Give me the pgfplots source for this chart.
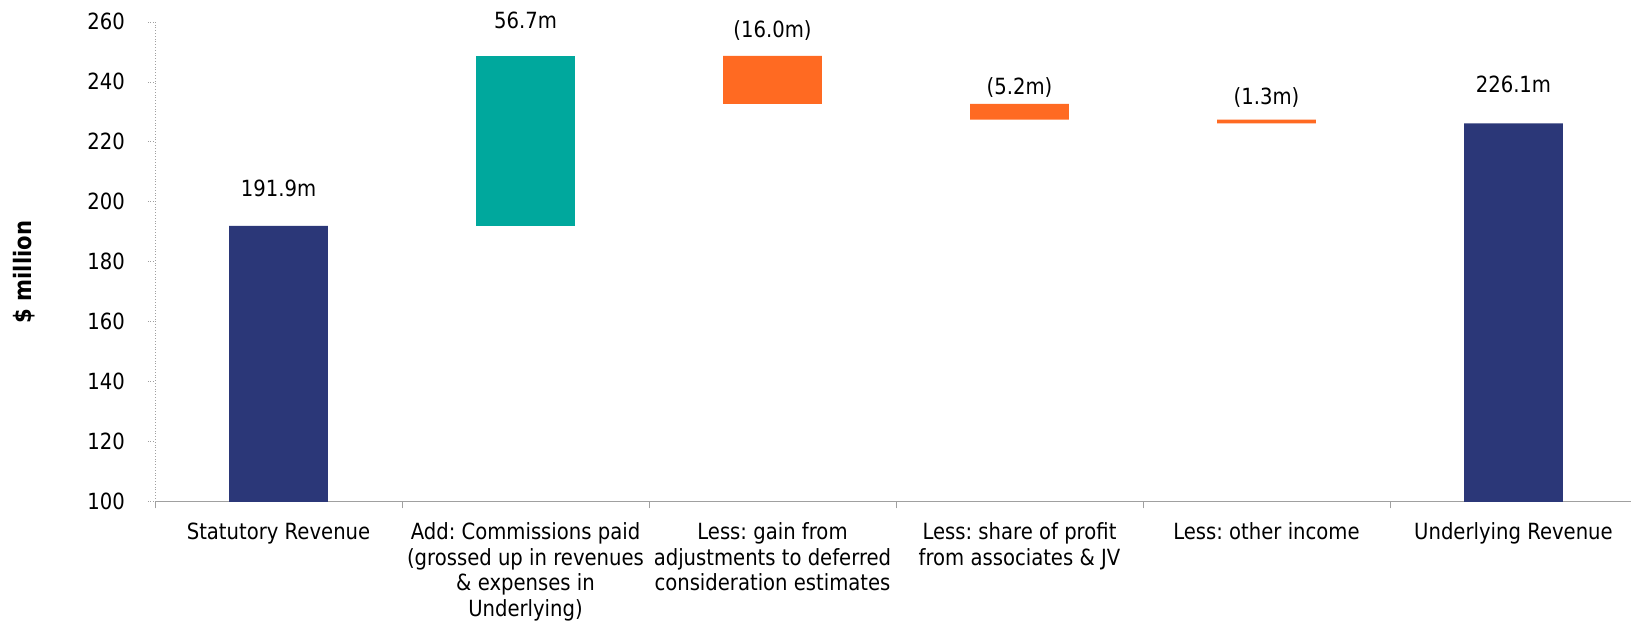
\documentclass[border=0pt]{standalone}
\usepackage{fontspec}
\setmainfont{DejaVu Sans}[FakeStretch=0.88]
\usepackage{pgfplots}
\pgfplotsset{compat=1.18}
\frenchspacing

\definecolor{navybar}{RGB}{43,55,120}
\definecolor{tealbar}{RGB}{0,168,157}
\definecolor{orangebar}{RGB}{255,106,34}
\definecolor{axisgray}{RGB}{160,160,160}
\newcommand\lblfont{\fontsize{11.15}{12.8}\selectfont}

\begin{document}
\begin{tikzpicture}
\begin{axis}[
    at={(0,0)}, anchor=south west,
    scale only axis,
    width=738pt, height=239.8pt,
    xmin=-0.5, xmax=5.476,
    ymin=100, ymax=260,
    ytick={100,120,...,260},
    xtick={-0.5,0.5,...,4.5},
    xticklabels={},
    extra x ticks={0,1,2,3,4,5},
    extra x tick labels={
        {Statutory Revenue},
        {Add: Commissions paid\\(grossed up in revenues\\\& expenses in\\Underlying)},
        {Less: gain from\\adjustments to deferred\\consideration estimates},
        {Less: share of profit\\from associates \& JV},
        {Less: other income},
        {Underlying Revenue}},
    extra x tick style={major tick length=0pt},
    axis x line=bottom,
    axis y line=left,
    x axis line style={-, draw=axisgray},
    y axis line style={-, draw=axisgray, densely dotted},
    tick align=outside,
    major tick length=3.5pt,
    xtick style={draw=axisgray, solid},
    ytick style={draw=axisgray, densely dotted},
    tick label style={font=\lblfont},
    xticklabel style={align=center, yshift=-7pt},
    yticklabel style={xshift=-8pt},
    /pgf/number format/assume math mode=true,
    ybar stacked,
    bar width=0.4,
    clip mode=individual,
]
% invisible base of the floating bars
\addplot[draw=none, fill=none] coordinates {
    (0,0) (1,191.9) (2,232.6) (3,227.4) (4,226.1) (5,0)};
% totals
\addplot[draw=none, fill=navybar] coordinates {
    (0,191.9) (1,0) (2,0) (3,0) (4,0) (5,226.1)};
% increase
\addplot[draw=none, fill=tealbar] coordinates {
    (0,0) (1,56.7) (2,0) (3,0) (4,0) (5,0)};
% decreases
\addplot[draw=none, fill=orangebar] coordinates {
    (0,0) (1,0) (2,16.0) (3,5.2) (4,1.3) (5,0)};

\node[anchor=base, font=\lblfont] at (axis cs:0,201.6) {191.9m};
\node[anchor=base, font=\lblfont] at (axis cs:1,257.9) {56.7m};
\node[anchor=base, font=\lblfont] at (axis cs:2,254.9) {(16.0m)};
\node[anchor=base, font=\lblfont] at (axis cs:3,235.6) {(5.2m)};
\node[anchor=base, font=\lblfont] at (axis cs:4,232.5) {(1.3m)};
\node[anchor=base, font=\lblfont] at (axis cs:5,236.4) {226.1m};
\end{axis}
% y axis title
\node[rotate=90, font=\bfseries\fontsize{12}{14}\selectfont]
    at (-65.5pt,114.6pt) {\$ million};
\pgfresetboundingbox
\path[use as bounding box] (-77.5pt,-62.3pt) rectangle (738pt,250.7pt);
\end{tikzpicture}
\end{document}
